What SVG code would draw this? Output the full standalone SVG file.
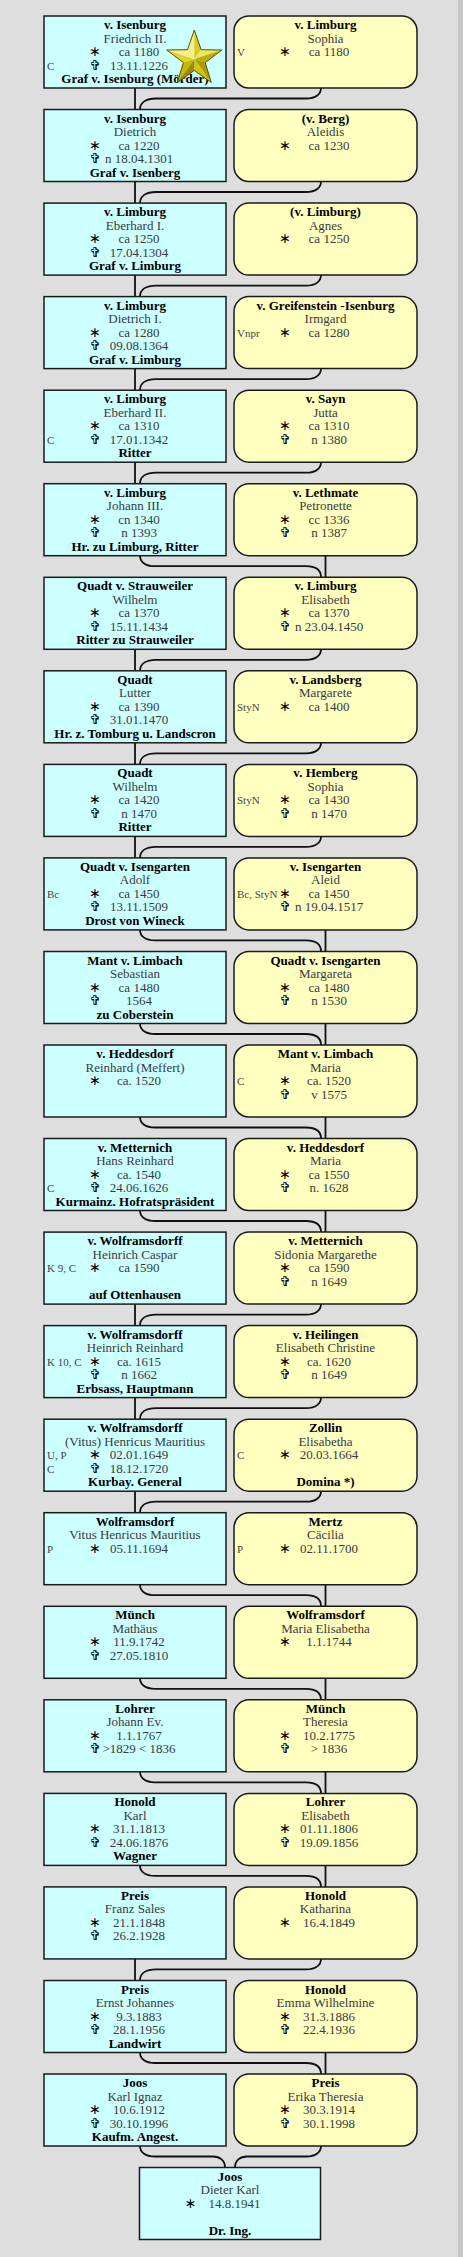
<svg xmlns="http://www.w3.org/2000/svg" width="463" height="2257" viewBox="0 0 463 2257">
<style>
text{font-family:"Liberation Serif","Times New Roman",serif;font-size:13px}
.m rect{fill:#ccffff;stroke:#1a1a1a;stroke-width:1.5}
.f rect{fill:#ffffc0;stroke:#1a1a1a;stroke-width:1.5}
.h,.b{font-weight:bold;fill:#000;text-anchor:middle}
.n,.d{fill:#3a3a3a;text-anchor:middle}
.s{font-family:"DejaVu Sans",sans-serif;font-size:14px;fill:#000;text-anchor:middle}
.a{font-size:11px;fill:#444}
#links path{fill:none;stroke:#111;stroke-width:1.8}
</style>
<rect width="463" height="2257" fill="#dedede"/>
<rect x="458" width="5" height="2257" fill="#c8c8c8"/>
<g id="links">
<path d="M135 88v21.5M321 88c0 6 -5 10.5 -15 10.5H156c-10 0 -16 4 -16 11"/>
<path d="M135 181.5v21.5M321 181.5c0 6 -5 10.5 -15 10.5H156c-10 0 -16 4 -16 11"/>
<path d="M135 275.1v21.5M321 275.1c0 6 -5 10.5 -15 10.5H156c-10 0 -16 4 -16 11"/>
<path d="M135 368.6v21.5M321 368.6c0 6 -5 10.5 -15 10.5H156c-10 0 -16 4 -16 11"/>
<path d="M135 462.2v21.5M321 462.2c0 6 -5 10.5 -15 10.5H156c-10 0 -16 4 -16 11"/>
<path d="M325.5 555.7v21.5M140 555.7c0 6 5 10.5 15 10.5H306c10 0 15 4 15 11"/>
<path d="M135 649.3v21.5M321 649.3c0 6 -5 10.5 -15 10.5H156c-10 0 -16 4 -16 11"/>
<path d="M135 742.8v21.5M321 742.8c0 6 -5 10.5 -15 10.5H156c-10 0 -16 4 -16 11"/>
<path d="M135 836.4v21.5M321 836.4c0 6 -5 10.5 -15 10.5H156c-10 0 -16 4 -16 11"/>
<path d="M325.5 929.9v21.5M140 929.9c0 6 5 10.5 15 10.5H306c10 0 15 4 15 11"/>
<path d="M325.5 1023.5v21.5M140 1023.5c0 6 5 10.5 15 10.5H306c10 0 15 4 15 11"/>
<path d="M325.5 1117v21.5M140 1117c0 6 5 10.5 15 10.5H306c10 0 15 4 15 11"/>
<path d="M325.5 1210.5v21.5M140 1210.5c0 6 5 10.5 15 10.5H306c10 0 15 4 15 11"/>
<path d="M135 1304.1v21.5M321 1304.1c0 6 -5 10.5 -15 10.5H156c-10 0 -16 4 -16 11"/>
<path d="M135 1397.6v21.5M321 1397.6c0 6 -5 10.5 -15 10.5H156c-10 0 -16 4 -16 11"/>
<path d="M135 1491.2v21.5M321 1491.2c0 6 -5 10.5 -15 10.5H156c-10 0 -16 4 -16 11"/>
<path d="M325.5 1584.7v21.5M140 1584.7c0 6 5 10.5 15 10.5H306c10 0 15 4 15 11"/>
<path d="M325.5 1678.3v21.5M140 1678.3c0 6 5 10.5 15 10.5H306c10 0 15 4 15 11"/>
<path d="M325.5 1771.8v21.5M140 1771.8c0 6 5 10.5 15 10.5H306c10 0 15 4 15 11"/>
<path d="M325.5 1865.4v21.5M140 1865.4c0 6 5 10.5 15 10.5H306c10 0 15 4 15 11"/>
<path d="M135 1958.9v21.5M321 1958.9c0 6 -5 10.5 -15 10.5H156c-10 0 -16 4 -16 11"/>
<path d="M325.5 2052.5v21.5M140 2052.5c0 6 5 10.5 15 10.5H306c10 0 15 4 15 11"/>
<path d="M140 2146c0 6 5 10.5 15 10.5H213c7 0 12 4 12 11M321 2146c0 6 -5 10.5 -15 10.5H247c-7 0 -12 4 -12 11"/>
</g>

<g id="p1m" class="m" transform="translate(44,16)"><rect width="182" height="72"/>
<text class="h" x="91" y="13">v. Isenburg</text><text class="n" x="91" y="26.5">Friedrich II.</text>
<text class="s" x="51" y="40">∗</text><text class="d" x="95" y="40">ca 1180</text>
<text class="a" x="3" y="53.5">C</text><text class="s" x="51" y="53.5">✞</text><text class="d" x="95" y="53.5">13.11.1226</text>
<text class="b" x="91" y="67">Graf v. Isenburg (Mörder)</text></g>
<g id="p1f" class="f" transform="translate(234,16)"><rect width="183" height="72" rx="15"/>
<text class="h" x="91.5" y="13">v. Limburg</text><text class="n" x="91.5" y="26.5">Sophia</text>
<text class="a" x="3" y="40">V</text><text class="s" x="51" y="40">∗</text><text class="d" x="95" y="40">ca 1180</text></g>
<g id="star">
<polygon points="194.3,59 194.3,30 187.5,49.7" fill="#f6ef86"/>
<polygon points="194.3,59 194.3,30 201.1,49.7" fill="#d9cc20"/>
<polygon points="194.3,59 221.9,50 201.1,49.7" fill="#efe460"/>
<polygon points="194.3,59 221.9,50 205.2,62.6" fill="#bfae00"/>
<polygon points="194.3,59 211.3,82.5 205.2,62.6" fill="#ab9a00"/>
<polygon points="194.3,59 211.3,82.5 194.3,70.5" fill="#d4c400"/>
<polygon points="194.3,59 177.3,82.5 194.3,70.5" fill="#9c8c00"/>
<polygon points="194.3,59 177.3,82.5 183.4,62.6" fill="#c8b800"/>
<polygon points="194.3,59 166.7,50 183.4,62.6" fill="#e0d330"/>
<polygon points="194.3,59 166.7,50 187.5,49.7" fill="#f7f08a"/>
<polygon points="194.3,30 201.1,49.7 221.9,50 205.2,62.6 211.3,82.5 194.3,70.5 177.3,82.5 183.4,62.6 166.7,50 187.5,49.7" fill="none" stroke="#5a5000" stroke-width="1"/>
</g>

<g id="p2m" class="m" transform="translate(44,109.5)"><rect width="182" height="72"/>
<text class="h" x="91" y="13">v. Isenburg</text><text class="n" x="91" y="26.5">Dietrich</text>
<text class="s" x="51" y="40">∗</text><text class="d" x="95" y="40">ca 1220</text>
<text class="s" x="51" y="53.5">✞</text><text class="d" x="95" y="53.5">n 18.04.1301</text>
<text class="b" x="91" y="67">Graf v. Isenberg</text></g>
<g id="p2f" class="f" transform="translate(234,109.5)"><rect width="183" height="72" rx="15"/>
<text class="h" x="91.5" y="13">(v. Berg)</text><text class="n" x="91.5" y="26.5">Aleidis</text>
<text class="s" x="51" y="40">∗</text><text class="d" x="95" y="40">ca 1230</text></g>

<g id="p3m" class="m" transform="translate(44,203.1)"><rect width="182" height="72"/>
<text class="h" x="91" y="13">v. Limburg</text><text class="n" x="91" y="26.5">Eberhard I.</text>
<text class="s" x="51" y="40">∗</text><text class="d" x="95" y="40">ca 1250</text>
<text class="s" x="51" y="53.5">✞</text><text class="d" x="95" y="53.5">17.04.1304</text>
<text class="b" x="91" y="67">Graf v. Limburg</text></g>
<g id="p3f" class="f" transform="translate(234,203.1)"><rect width="183" height="72" rx="15"/>
<text class="h" x="91.5" y="13">(v. Limburg)</text><text class="n" x="91.5" y="26.5">Agnes</text>
<text class="s" x="51" y="40">∗</text><text class="d" x="95" y="40">ca 1250</text></g>

<g id="p4m" class="m" transform="translate(44,296.6)"><rect width="182" height="72"/>
<text class="h" x="91" y="13">v. Limburg</text><text class="n" x="91" y="26.5">Dietrich I.</text>
<text class="s" x="51" y="40">∗</text><text class="d" x="95" y="40">ca 1280</text>
<text class="s" x="51" y="53.5">✞</text><text class="d" x="95" y="53.5">09.08.1364</text>
<text class="b" x="91" y="67">Graf v. Limburg</text></g>
<g id="p4f" class="f" transform="translate(234,296.6)"><rect width="183" height="72" rx="15"/>
<text class="h" x="91.5" y="13">v. Greifenstein -Isenburg</text><text class="n" x="91.5" y="26.5">Irmgard</text>
<text class="a" x="3" y="40">Vnpr</text><text class="s" x="51" y="40">∗</text><text class="d" x="95" y="40">ca 1280</text></g>

<g id="p5m" class="m" transform="translate(44,390.2)"><rect width="182" height="72"/>
<text class="h" x="91" y="13">v. Limburg</text><text class="n" x="91" y="26.5">Eberhard II.</text>
<text class="s" x="51" y="40">∗</text><text class="d" x="95" y="40">ca 1310</text>
<text class="a" x="3" y="53.5">C</text><text class="s" x="51" y="53.5">✞</text><text class="d" x="95" y="53.5">17.01.1342</text>
<text class="b" x="91" y="67">Ritter</text></g>
<g id="p5f" class="f" transform="translate(234,390.2)"><rect width="183" height="72" rx="15"/>
<text class="h" x="91.5" y="13">v. Sayn</text><text class="n" x="91.5" y="26.5">Jutta</text>
<text class="s" x="51" y="40">∗</text><text class="d" x="95" y="40">ca 1310</text>
<text class="s" x="51" y="53.5">✞</text><text class="d" x="95" y="53.5">n 1380</text></g>

<g id="p6m" class="m" transform="translate(44,483.7)"><rect width="182" height="72"/>
<text class="h" x="91" y="13">v. Limburg</text><text class="n" x="91" y="26.5">Johann III.</text>
<text class="s" x="51" y="40">∗</text><text class="d" x="95" y="40">cn 1340</text>
<text class="s" x="51" y="53.5">✞</text><text class="d" x="95" y="53.5">n 1393</text>
<text class="b" x="91" y="67">Hr. zu Limburg, Ritter</text></g>
<g id="p6f" class="f" transform="translate(234,483.7)"><rect width="183" height="72" rx="15"/>
<text class="h" x="91.5" y="13">v. Lethmate</text><text class="n" x="91.5" y="26.5">Petronette</text>
<text class="s" x="51" y="40">∗</text><text class="d" x="95" y="40">cc 1336</text>
<text class="s" x="51" y="53.5">✞</text><text class="d" x="95" y="53.5">n 1387</text></g>

<g id="p7m" class="m" transform="translate(44,577.3)"><rect width="182" height="72"/>
<text class="h" x="91" y="13">Quadt v. Strauweiler</text><text class="n" x="91" y="26.5">Wilhelm</text>
<text class="s" x="51" y="40">∗</text><text class="d" x="95" y="40">ca 1370</text>
<text class="s" x="51" y="53.5">✞</text><text class="d" x="95" y="53.5">15.11.1434</text>
<text class="b" x="91" y="67">Ritter zu Strauweiler</text></g>
<g id="p7f" class="f" transform="translate(234,577.3)"><rect width="183" height="72" rx="15"/>
<text class="h" x="91.5" y="13">v. Limburg</text><text class="n" x="91.5" y="26.5">Elisabeth</text>
<text class="s" x="51" y="40">∗</text><text class="d" x="95" y="40">ca 1370</text>
<text class="s" x="51" y="53.5">✞</text><text class="d" x="95" y="53.5">n 23.04.1450</text></g>

<g id="p8m" class="m" transform="translate(44,670.8)"><rect width="182" height="72"/>
<text class="h" x="91" y="13">Quadt</text><text class="n" x="91" y="26.5">Lutter</text>
<text class="s" x="51" y="40">∗</text><text class="d" x="95" y="40">ca 1390</text>
<text class="s" x="51" y="53.5">✞</text><text class="d" x="95" y="53.5">31.01.1470</text>
<text class="b" x="91" y="67">Hr. z. Tomburg u. Landscron</text></g>
<g id="p8f" class="f" transform="translate(234,670.8)"><rect width="183" height="72" rx="15"/>
<text class="h" x="91.5" y="13">v. Landsberg</text><text class="n" x="91.5" y="26.5">Margarete</text>
<text class="a" x="3" y="40">StyN</text><text class="s" x="51" y="40">∗</text><text class="d" x="95" y="40">ca 1400</text></g>

<g id="p9m" class="m" transform="translate(44,764.4)"><rect width="182" height="72"/>
<text class="h" x="91" y="13">Quadt</text><text class="n" x="91" y="26.5">Wilhelm</text>
<text class="s" x="51" y="40">∗</text><text class="d" x="95" y="40">ca 1420</text>
<text class="s" x="51" y="53.5">✞</text><text class="d" x="95" y="53.5">n 1470</text>
<text class="b" x="91" y="67">Ritter</text></g>
<g id="p9f" class="f" transform="translate(234,764.4)"><rect width="183" height="72" rx="15"/>
<text class="h" x="91.5" y="13">v. Hemberg</text><text class="n" x="91.5" y="26.5">Sophia</text>
<text class="a" x="3" y="40">StyN</text><text class="s" x="51" y="40">∗</text><text class="d" x="95" y="40">ca 1430</text>
<text class="s" x="51" y="53.5">✞</text><text class="d" x="95" y="53.5">n 1470</text></g>

<g id="p10m" class="m" transform="translate(44,857.9)"><rect width="182" height="72"/>
<text class="h" x="91" y="13">Quadt v. Isengarten</text><text class="n" x="91" y="26.5">Adolf</text>
<text class="a" x="3" y="40">Bc</text><text class="s" x="51" y="40">∗</text><text class="d" x="95" y="40">ca 1450</text>
<text class="s" x="51" y="53.5">✞</text><text class="d" x="95" y="53.5">13.11.1509</text>
<text class="b" x="91" y="67">Drost von Wineck</text></g>
<g id="p10f" class="f" transform="translate(234,857.9)"><rect width="183" height="72" rx="15"/>
<text class="h" x="91.5" y="13">v. Isengarten</text><text class="n" x="91.5" y="26.5">Aleid</text>
<text class="a" x="3" y="40">Bc, StyN</text><text class="s" x="51" y="40">∗</text><text class="d" x="95" y="40">ca 1450</text>
<text class="s" x="51" y="53.5">✞</text><text class="d" x="95" y="53.5">n 19.04.1517</text></g>

<g id="p11m" class="m" transform="translate(44,951.5)"><rect width="182" height="72"/>
<text class="h" x="91" y="13">Mant v. Limbach</text><text class="n" x="91" y="26.5">Sebastian</text>
<text class="s" x="51" y="40">∗</text><text class="d" x="95" y="40">ca 1480</text>
<text class="s" x="51" y="53.5">✞</text><text class="d" x="95" y="53.5">1564</text>
<text class="b" x="91" y="67">zu Coberstein</text></g>
<g id="p11f" class="f" transform="translate(234,951.5)"><rect width="183" height="72" rx="15"/>
<text class="h" x="91.5" y="13">Quadt v. Isengarten</text><text class="n" x="91.5" y="26.5">Margareta</text>
<text class="s" x="51" y="40">∗</text><text class="d" x="95" y="40">ca 1480</text>
<text class="s" x="51" y="53.5">✞</text><text class="d" x="95" y="53.5">n 1530</text></g>

<g id="p12m" class="m" transform="translate(44,1045)"><rect width="182" height="72"/>
<text class="h" x="91" y="13">v. Heddesdorf</text><text class="n" x="91" y="26.5">Reinhard (Meffert)</text>
<text class="s" x="51" y="40">∗</text><text class="d" x="95" y="40">ca. 1520</text></g>
<g id="p12f" class="f" transform="translate(234,1045)"><rect width="183" height="72" rx="15"/>
<text class="h" x="91.5" y="13">Mant v. Limbach</text><text class="n" x="91.5" y="26.5">Maria</text>
<text class="a" x="3" y="40">C</text><text class="s" x="51" y="40">∗</text><text class="d" x="95" y="40">ca. 1520</text>
<text class="s" x="51" y="53.5">✞</text><text class="d" x="95" y="53.5">v 1575</text></g>

<g id="p13m" class="m" transform="translate(44,1138.5)"><rect width="182" height="72"/>
<text class="h" x="91" y="13">v. Metternich</text><text class="n" x="91" y="26.5">Hans Reinhard</text>
<text class="s" x="51" y="40">∗</text><text class="d" x="95" y="40">ca. 1540</text>
<text class="a" x="3" y="53.5">C</text><text class="s" x="51" y="53.5">✞</text><text class="d" x="95" y="53.5">24.06.1626</text>
<text class="b" x="91" y="67">Kurmainz. Hofratspräsident</text></g>
<g id="p13f" class="f" transform="translate(234,1138.5)"><rect width="183" height="72" rx="15"/>
<text class="h" x="91.5" y="13">v. Heddesdorf</text><text class="n" x="91.5" y="26.5">Maria</text>
<text class="s" x="51" y="40">∗</text><text class="d" x="95" y="40">ca 1550</text>
<text class="s" x="51" y="53.5">✞</text><text class="d" x="95" y="53.5">n. 1628</text></g>

<g id="p14m" class="m" transform="translate(44,1232.1)"><rect width="182" height="72"/>
<text class="h" x="91" y="13">v. Wolframsdorff</text><text class="n" x="91" y="26.5">Heinrich Caspar</text>
<text class="a" x="3" y="40">K 9, C</text><text class="s" x="51" y="40">∗</text><text class="d" x="95" y="40">ca 1590</text>
<text class="b" x="91" y="67">auf Ottenhausen</text></g>
<g id="p14f" class="f" transform="translate(234,1232.1)"><rect width="183" height="72" rx="15"/>
<text class="h" x="91.5" y="13">v. Metternich</text><text class="n" x="91.5" y="26.5">Sidonia Margarethe</text>
<text class="s" x="51" y="40">∗</text><text class="d" x="95" y="40">ca 1590</text>
<text class="s" x="51" y="53.5">✞</text><text class="d" x="95" y="53.5">n 1649</text></g>

<g id="p15m" class="m" transform="translate(44,1325.6)"><rect width="182" height="72"/>
<text class="h" x="91" y="13">v. Wolframsdorff</text><text class="n" x="91" y="26.5">Heinrich Reinhard</text>
<text class="a" x="3" y="40">K 10, C</text><text class="s" x="51" y="40">∗</text><text class="d" x="95" y="40">ca. 1615</text>
<text class="s" x="51" y="53.5">✞</text><text class="d" x="95" y="53.5">n 1662</text>
<text class="b" x="91" y="67">Erbsass, Hauptmann</text></g>
<g id="p15f" class="f" transform="translate(234,1325.6)"><rect width="183" height="72" rx="15"/>
<text class="h" x="91.5" y="13">v. Heilingen</text><text class="n" x="91.5" y="26.5">Elisabeth Christine</text>
<text class="s" x="51" y="40">∗</text><text class="d" x="95" y="40">ca. 1620</text>
<text class="s" x="51" y="53.5">✞</text><text class="d" x="95" y="53.5">n 1649</text></g>

<g id="p16m" class="m" transform="translate(44,1419.2)"><rect width="182" height="72"/>
<text class="h" x="91" y="13">v. Wolframsdorff</text><text class="n" x="91" y="26.5">(Vitus) Henricus Mauritius</text>
<text class="a" x="3" y="40">U, P</text><text class="s" x="51" y="40">∗</text><text class="d" x="95" y="40">02.01.1649</text>
<text class="a" x="3" y="53.5">C</text><text class="s" x="51" y="53.5">✞</text><text class="d" x="95" y="53.5">18.12.1720</text>
<text class="b" x="91" y="67">Kurbay. General</text></g>
<g id="p16f" class="f" transform="translate(234,1419.2)"><rect width="183" height="72" rx="15"/>
<text class="h" x="91.5" y="13">Zollin</text><text class="n" x="91.5" y="26.5">Elisabetha</text>
<text class="a" x="3" y="40">C</text><text class="s" x="51" y="40">∗</text><text class="d" x="95" y="40">20.03.1664</text>
<text class="b" x="91.5" y="67">Domina *)</text></g>

<g id="p17m" class="m" transform="translate(44,1512.7)"><rect width="182" height="72"/>
<text class="h" x="91" y="13">Wolframsdorf</text><text class="n" x="91" y="26.5">Vitus Henricus Mauritius</text>
<text class="a" x="3" y="40">P</text><text class="s" x="51" y="40">∗</text><text class="d" x="95" y="40">05.11.1694</text></g>
<g id="p17f" class="f" transform="translate(234,1512.7)"><rect width="183" height="72" rx="15"/>
<text class="h" x="91.5" y="13">Mertz</text><text class="n" x="91.5" y="26.5">Cäcilia</text>
<text class="a" x="3" y="40">P</text><text class="s" x="51" y="40">∗</text><text class="d" x="95" y="40">02.11.1700</text></g>

<g id="p18m" class="m" transform="translate(44,1606.3)"><rect width="182" height="72"/>
<text class="h" x="91" y="13">Münch</text><text class="n" x="91" y="26.5">Mathäus</text>
<text class="s" x="51" y="40">∗</text><text class="d" x="95" y="40">11.9.1742</text>
<text class="s" x="51" y="53.5">✞</text><text class="d" x="95" y="53.5">27.05.1810</text></g>
<g id="p18f" class="f" transform="translate(234,1606.3)"><rect width="183" height="72" rx="15"/>
<text class="h" x="91.5" y="13">Wolframsdorf</text><text class="n" x="91.5" y="26.5">Maria Elisabetha</text>
<text class="s" x="51" y="40">∗</text><text class="d" x="95" y="40">1.1.1744</text></g>

<g id="p19m" class="m" transform="translate(44,1699.8)"><rect width="182" height="72"/>
<text class="h" x="91" y="13">Lohrer</text><text class="n" x="91" y="26.5">Johann Ev.</text>
<text class="s" x="51" y="40">∗</text><text class="d" x="95" y="40">1.1.1767</text>
<text class="s" x="51" y="53.5">✞</text><text class="d" x="95" y="53.5">&gt;1829 &lt; 1836</text></g>
<g id="p19f" class="f" transform="translate(234,1699.8)"><rect width="183" height="72" rx="15"/>
<text class="h" x="91.5" y="13">Münch</text><text class="n" x="91.5" y="26.5">Theresia</text>
<text class="s" x="51" y="40">∗</text><text class="d" x="95" y="40">10.2.1775</text>
<text class="s" x="51" y="53.5">✞</text><text class="d" x="95" y="53.5">&gt; 1836</text></g>

<g id="p20m" class="m" transform="translate(44,1793.4)"><rect width="182" height="72"/>
<text class="h" x="91" y="13">Honold</text><text class="n" x="91" y="26.5">Karl</text>
<text class="s" x="51" y="40">∗</text><text class="d" x="95" y="40">31.1.1813</text>
<text class="s" x="51" y="53.5">✞</text><text class="d" x="95" y="53.5">24.06.1876</text>
<text class="b" x="91" y="67">Wagner</text></g>
<g id="p20f" class="f" transform="translate(234,1793.4)"><rect width="183" height="72" rx="15"/>
<text class="h" x="91.5" y="13">Lohrer</text><text class="n" x="91.5" y="26.5">Elisabeth</text>
<text class="s" x="51" y="40">∗</text><text class="d" x="95" y="40">01.11.1806</text>
<text class="s" x="51" y="53.5">✞</text><text class="d" x="95" y="53.5">19.09.1856</text></g>

<g id="p21m" class="m" transform="translate(44,1886.9)"><rect width="182" height="72"/>
<text class="h" x="91" y="13">Preis</text><text class="n" x="91" y="26.5">Franz Sales</text>
<text class="s" x="51" y="40">∗</text><text class="d" x="95" y="40">21.1.1848</text>
<text class="s" x="51" y="53.5">✞</text><text class="d" x="95" y="53.5">26.2.1928</text></g>
<g id="p21f" class="f" transform="translate(234,1886.9)"><rect width="183" height="72" rx="15"/>
<text class="h" x="91.5" y="13">Honold</text><text class="n" x="91.5" y="26.5">Katharina</text>
<text class="s" x="51" y="40">∗</text><text class="d" x="95" y="40">16.4.1849</text></g>

<g id="p22m" class="m" transform="translate(44,1980.5)"><rect width="182" height="72"/>
<text class="h" x="91" y="13">Preis</text><text class="n" x="91" y="26.5">Ernst Johannes</text>
<text class="s" x="51" y="40">∗</text><text class="d" x="95" y="40">9.3.1883</text>
<text class="s" x="51" y="53.5">✞</text><text class="d" x="95" y="53.5">28.1.1956</text>
<text class="b" x="91" y="67">Landwirt</text></g>
<g id="p22f" class="f" transform="translate(234,1980.5)"><rect width="183" height="72" rx="15"/>
<text class="h" x="91.5" y="13">Honold</text><text class="n" x="91.5" y="26.5">Emma Wilhelmine</text>
<text class="s" x="51" y="40">∗</text><text class="d" x="95" y="40">31.3.1886</text>
<text class="s" x="51" y="53.5">✞</text><text class="d" x="95" y="53.5">22.4.1936</text></g>

<g id="p23m" class="m" transform="translate(44,2074)"><rect width="182" height="72"/>
<text class="h" x="91" y="13">Joos</text><text class="n" x="91" y="26.5">Karl Ignaz</text>
<text class="s" x="51" y="40">∗</text><text class="d" x="95" y="40">10.6.1912</text>
<text class="s" x="51" y="53.5">✞</text><text class="d" x="95" y="53.5">30.10.1996</text>
<text class="b" x="91" y="67">Kaufm. Angest.</text></g>
<g id="p23f" class="f" transform="translate(234,2074)"><rect width="183" height="72" rx="15"/>
<text class="h" x="91.5" y="13">Preis</text><text class="n" x="91.5" y="26.5">Erika Theresia</text>
<text class="s" x="51" y="40">∗</text><text class="d" x="95" y="40">30.3.1914</text>
<text class="s" x="51" y="53.5">✞</text><text class="d" x="95" y="53.5">30.1.1998</text></g>

<g id="p24m" class="m" transform="translate(139.5,2167.5)"><rect width="181" height="72"/>
<text class="h" x="90.5" y="13">Joos</text><text class="n" x="90.5" y="26.5">Dieter Karl</text>
<text class="s" x="51" y="40">∗</text><text class="d" x="95" y="40">14.8.1941</text>
<text class="b" x="90.5" y="67">Dr. Ing.</text></g>
</svg>
